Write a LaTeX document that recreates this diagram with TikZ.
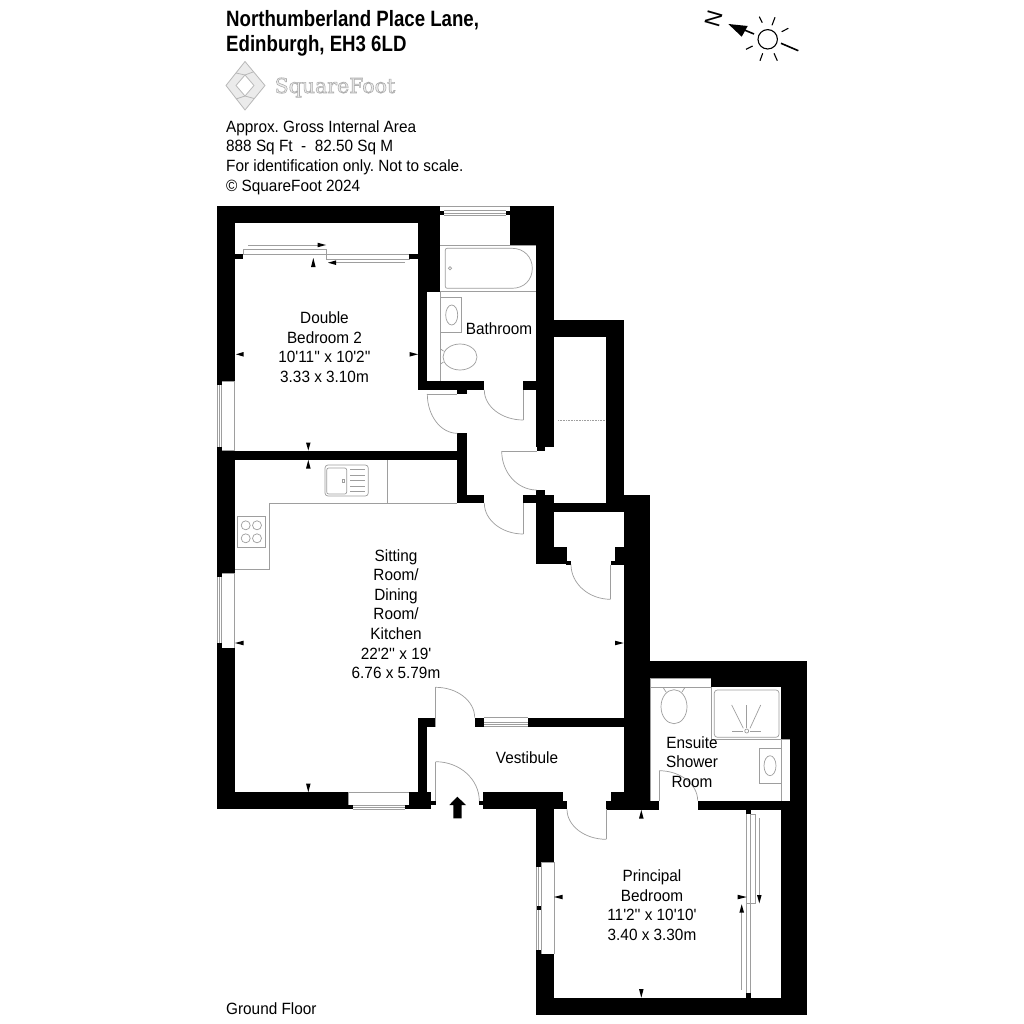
\documentclass[tikz,border=0pt]{standalone}
\usepackage{fontspec}
\setmainfont{Liberation Sans}
\newfontfamily\logofont{DejaVu Serif}
\newfontfamily\bodyfont{Liberation Sans}[FakeStretch=0.94]
\newfontfamily\titlefont{Liberation Sans}[FakeStretch=0.84]
\usetikzlibrary{calc}
\definecolor{fixgrey}{gray}{0.62}
\definecolor{logogrey}{gray}{0.72}
\definecolor{logofill}{gray}{0.92}
\tikzset{
 wall/.style={fill=black,draw=none},
 fix/.style={draw=fixgrey,line width=0.7pt,fill=none},
 win/.style={draw=fixgrey,line width=0.7pt},
 tick/.style={fill=black,draw=none},
 label/.style={inner sep=0pt,align=center,font=\bodyfont\frenchspacing\fontsize{16.3}{19.6}\selectfont},
 info/.style={inner sep=0pt,anchor=base west,font=\bodyfont\frenchspacing\fontsize{16.3}{19.6}\selectfont},
 titletext/.style={inner sep=0pt,anchor=base west,font=\titlefont\bfseries\fontsize{22.2}{25}\selectfont},
 logoline/.style={draw=logogrey,line width=0.8pt,line join=round},
 sunline/.style={draw=black,line width=1.1pt},
}
\newcommand{\wl}[2]{\fill[wall] (#1) rectangle (#2);}
\newcommand{\qarc}[3]{\draw[fix] (#1) .. controls ($(#1)!0.552!(#3)$) and ($(#2)!0.552!(#3)$) .. (#2);}
\newcommand{\trih}[3]{\fill[tick] (#1,#3) -- (#2,#3-2.3) -- (#2,#3+2.3) -- cycle;}
\newcommand{\triv}[3]{\fill[tick] (#1,#2) -- (#1-2.3,#3) -- (#1+2.3,#3) -- cycle;}
\begin{document}
\begin{tikzpicture}[x=1pt,y=-1pt]
\useasboundingbox (0,0) rectangle (1024,1024);
\fill[white] (0,0) rectangle (1024,1024);

% header text
\node[titletext] (t1) at (226,26.7) {Northumberland Place Lane,};
\node[titletext] (t2) at (226,51.7) {Edinburgh, EH3 6LD};
\node[info] (i1) at (226,132.3) {Approx. Gross Internal Area};
\node[info] (i2) at (226,152) {888 Sq Ft\ \ -\ \ 82.50 Sq M};
\node[info] (i3) at (226,171.7) {For identification only. Not to scale.};
\node[info] (i4) at (226,191.5) {© SquareFoot 2024};
\node[info] (gf) at (226,1014) {Ground Floor};

% logo
\draw[logoline,fill=logofill] (226,85.5) -- (245,61.5) -- (265,85.5) -- (245,110) -- cycle;
\draw[logoline,fill=white] (236,85.5) -- (245,75) -- (254,85.5) -- (245,96) -- cycle;
\draw[logoline] (245,75) -- (253.5,71.8);
\draw[logoline] (245,75) -- (236,73);
\draw[logoline] (245,96) -- (236,99);
\draw[logoline] (245,96) -- (254,98.5);
\node[inner sep=0pt,anchor=base west,text=logofill,font=\logofont\fontsize{20.5}{21}\selectfont] (logo) at (274.5,93) {\special{pdf:code 2 Tr 0.6 w 0.68 G}SquareFoot\special{pdf:code 0 Tr}};

% compass
\draw[sunline] (767.7,39.3) circle (9.7);
\draw[sunline] (759.3,16.7) -- (762.3,22.7);
\draw[sunline] (775,17.3) -- (772,25.3);
\draw[sunline] (788.3,28.3) -- (781.7,31.7);
\draw[draw=black,line width=1.6pt] (781,43.3) -- (798.3,50.7);
\draw[sunline] (746,49.3) -- (752.7,46);
\draw[sunline] (760,60.7) -- (762.7,53.3);
\draw[sunline] (777.3,60.7) -- (774,53.3);
\draw[draw=black,line width=1.6pt] (754,34) -- (742,29);
\fill[tick] (728.3,24) -- (747.7,26) -- (741.7,36.7) -- cycle;
\node[inner sep=0pt,rotate=74,font=\fontsize{22}{22}\selectfont] (north) at (713.5,19) {N};

% fixtures: bathroom
\draw[fix] (440,245) -- (536,245);
\draw[fix] (427,291.7) -- (536,291.7);
\draw[fix] (440,291.7) -- (440,381);
\draw[fix] (445.3,250.3) .. controls (445.3,249) and (446,248.3) .. (447.3,248.3) -- (512,248.3) .. controls (524,248.3) and (532.3,257) .. (532.3,268.3) .. controls (532.3,280) and (524,288.3) .. (512,288.3) -- (447.3,288.3) .. controls (446,288.3) and (445.3,287.6) .. (445.3,286.3) -- cycle;
\draw[fix] (450,268.3) circle (1.6);
\draw[fix] (440,297.3) rectangle (461.7,332.7);
\draw[fix] (451.7,315) ellipse (6 and 10);
\draw[fix] (460,357) ellipse (17 and 13);
\draw[fix] (440.5,349) -- (443.5,351);
\draw[fix] (440.5,364) -- (443.5,362);

% fixtures: kitchen
\draw[fix] (269.3,503) -- (457.3,503);
\draw[fix] (269.3,503) -- (269.3,569.3) -- (234.5,569.3);
\draw[fix] (387.3,460) -- (387.3,503);
\draw[fix,rounded corners=3pt] (325,465) rectangle (368.3,496);
\draw[fix,rounded corners=2pt] (326.7,468) rectangle (346.7,494);
\draw[fix] (342,479.5) rectangle (344.5,482);
\foreach \yy in {469.3,475,480.7,486,491.7} \draw[fix] (350,\yy) -- (365,\yy);
\draw[fix] (237.3,516) rectangle (265.7,547.3);
\foreach \xx/\yy in {245.7/525.3,257/525.3,245.7/538.3,257/538.3} \draw[fix] (\xx,\yy) circle (4.5);

% fixtures: store
\draw[draw=fixgrey,line width=0.6pt,densely dotted] (558,420) -- (606,420);

% fixtures: ensuite
\draw[fix] (650,687.3) -- (711.3,687.3);
\draw[fix] (711.3,678) -- (711.3,739.3) -- (790,739.3);
\draw[fix,rounded corners=3pt] (714.3,690) rectangle (779,737.3);
\draw[fix] (746.7,705) -- (746.7,728);
\draw[fix] (731.7,705) -- (743.3,728.3);
\draw[fix] (760.7,705) -- (750,728.3);
\draw[fix] (732.3,731) -- (743.3,731);
\draw[fix] (750,731) -- (760.7,731);
\draw[fix] (746.7,731) circle (2);
\draw[fix] (759.3,748.3) rectangle (781.3,783.3);
\draw[fix] (770,765.7) ellipse (6 and 10);
\draw[fix] (781.3,739.3) -- (781.3,800.7);
\draw[fix] (674,706.7) ellipse (13 and 17);
\draw[fix] (663,687.3) -- (666,692);
\draw[fix] (685,687.3) -- (682,692);
\draw[fix] (650,678) -- (650,800.7);
\draw[fix] (650,678) -- (711,678);

% double bedroom wardrobe
\draw[fix] (243.3,249.3) rectangle (326,254);
\draw[fix] (326,254) rectangle (409.3,259);
\draw[fix] (248.3,245) -- (318,245);
\fill[tick] (326,245) -- (317.5,242.7) -- (317.5,247.3) -- cycle;
\draw[fix] (335,262.7) -- (405,262.7);
\fill[tick] (328,262.7) -- (336,260.4) -- (336,265) -- cycle;
\triv{313.3}{258}{267}

% principal bedroom wardrobe
\draw[fix] (746.7,814) -- (746.7,993);
\draw[fix] (750.7,814) rectangle (755,903.3);
\draw[fix] (746.7,903.3) rectangle (750.7,993);
\draw[fix] (759.3,818) -- (759.3,895);
\fill[tick] (759.3,903.3) -- (757,895) -- (761.6,895) -- cycle;
\draw[fix] (741.7,912) -- (741.7,990);
\fill[tick] (741.7,904.3) -- (739.4,912.5) -- (744,912.5) -- cycle;

% windows
\draw[win] (440,206.5) -- (510,206.5);
\draw[win] (444,210.6) -- (506,210.6);
\draw[win] (444,213) -- (506,213);
\draw[win] (444,215) -- (506,215);
\draw[win] (217.3,381) -- (217.3,451);
\draw[win] (219.5,381) -- (219.5,451);
\draw[win] (221.7,381) -- (221.7,451);
\draw[win] (221.7,381) -- (234.5,381);
\draw[win] (234.5,381) -- (234.5,450.7);
\draw[win] (221.7,450.7) -- (234.5,450.7);
\draw[win] (217.3,573) -- (217.3,648);
\draw[win] (219.5,573) -- (219.5,648);
\draw[win] (221.7,573) -- (221.7,648);
\draw[win] (221.7,573) -- (234.5,573);
\draw[win] (234.5,573) -- (234.5,648);
\draw[win] (221.7,648) -- (234.5,648);
\draw[win] (348.3,792.3) -- (409.3,792.3);
\draw[win] (352.7,805) -- (405,805);
\draw[win] (352.7,807) -- (405,807);
\draw[win] (352.7,809.2) -- (405,809.2);
\draw[win] (484,717.7) -- (527.7,717.7);
\draw[win] (484,722.3) -- (527.7,722.3);
\draw[win] (484,724.5) -- (527.7,724.5);
\draw[win] (484,726.7) -- (527.7,726.7);
\draw[win] (536.3,862) -- (536.3,954);
\draw[win] (538.6,862) -- (538.6,954);
\draw[win] (541,862) -- (541,954);
\draw[win] (541,862) -- (554,862);
\draw[win] (554,862) -- (554,954);
\draw[win] (541,954) -- (554,954);
\draw[win] (348.3,792.3) -- (348.3,805);
\draw[win] (409.3,792.3) -- (409.3,805);

% walls
\wl{217,206}{440,223.5}
\wl{217,206}{234.5,381}
\wl{217,381}{221.7,385}
\wl{418,206}{440,291.7}
\wl{418,291}{427,390}
\wl{440,210.6}{444,215}
\wl{506,210.6}{510,215}
\wl{510,206}{553.7,245}
\wl{536,245}{553.7,446.7}
\wl{536.7,446}{544.5,451}
\wl{418,381}{484.3,390}
\wl{457.3,389}{466.7,394}
\wl{523.3,381}{536.5,390}
\wl{553,319.5}{623.7,337}
\wl{606,319.5}{623.7,512}
\wl{553,503}{623.7,512}
\wl{606,494.7}{650,512}
\wl{623.7,494.7}{650,801}
\wl{457.3,433.3}{466.7,503}
\wl{457.3,495}{484.3,503}
\wl{234,450.7}{466,460}
\wl{217,450.7}{234.5,573}
\wl{217,446.7}{221.7,451}
\wl{217,573}{221.7,577}
\wl{217,648}{234.5,809.3}
\wl{217,643}{221.7,648}
\wl{217,792.3}{348.3,809.3}
\wl{348,805}{352.7,809.3}
\wl{409.3,792.3}{431.3,809.3}
\wl{405,805}{409.5,809.3}
\wl{418,717.7}{427,793}
\wl{418,717.7}{435.7,726.7}
\wl{431,801}{435.7,805.3}
\wl{479.3,801}{483.5,805.3}
\wl{483,792.3}{562.7,809.3}
\wl{562,801}{567,809.3}
\wl{536,809}{553.7,862}
\wl{536,862}{541,867}
\wl{536,950}{541,954}
\wl{536,954}{553.7,1015}
\wl{536.5,906}{541,910}
\wl{606.3,801}{659,810}
\wl{610.7,792.3}{624,801.5}
\wl{474.7,717.7}{484,726.7}
\wl{527.7,717.7}{624,726.7}
\wl{523.3,495}{536.5,503}
\wl{536,495}{553.7,564}
\wl{553,546.7}{566.7,564}
\wl{566,560.7}{571,564.5}
\wl{536.3,490}{545,495.5}
\wl{615,546.7}{624,564.5}
\wl{610.7,560.7}{615.5,564.5}
\wl{650,660.7}{807,678}
\wl{711,677}{807,687.3}
\wl{781,687}{807,739.3}
\wl{790,739}{807,810}
\wl{698.3,800.7}{807,810}
\wl{781,809}{807,1015}
\wl{536,997.7}{807,1015}
\wl{746.3,809}{750.7,814}
\wl{746.3,993.3}{750.7,998}
\wl{234,254}{243.3,258.5}
\wl{409,254}{418.5,258.5}

% doors
\draw[fix] (427.3,394) -- (457.3,394);
\qarc{427.3,394}{457.3,433.3}{427.3,433.3}
\draw[fix] (523.3,390) -- (523.3,420);
\qarc{484.3,390}{523.3,420}{484.3,420}
\draw[fix] (501.7,451) -- (536.7,451);
\qarc{501.7,451}{536.7,490}{501.7,490}
\draw[fix] (523.3,503) -- (523.3,534);
\qarc{484.3,503}{523.3,534}{484.3,534}
\draw[fix] (610.7,564.5) -- (610.7,599.3);
\qarc{571,564.5}{610.7,599.3}{571,599.3}
\draw[fix] (435.7,726.7) -- (435.7,687.3);
\qarc{435.7,687.3}{474.7,717.7}{474.7,687.3}
\draw[fix] (435.7,801) -- (435.7,761.7);
\qarc{435.7,761.7}{479.3,801}{479.3,761.7}
\draw[fix] (606.3,809.3) -- (606.3,839.3);
\qarc{567,809.3}{606.3,839.3}{567,839.3}
\draw[fix] (659,800.7) -- (659,770.7);
\qarc{659,770.7}{697.7,800.7}{697.7,770.7}

% entry arrow
\fill[tick] (457.3,796.7) -- (466,805) -- (461.7,805) -- (461.7,818.3) -- (453.3,818.3) -- (453.3,805) -- (449.3,805) -- cycle;

% dimension ticks
\trih{236}{243.5}{354.3}
\trih{418}{409.5}{354.3}
\triv{308.3}{450.5}{442.5}
\triv{308.3}{460}{468.5}
\trih{235}{243.5}{643}
\trih{623.7}{615}{643}
\triv{308.3}{792.3}{783.5}
\triv{641.3}{810}{818.5}
\triv{641.3}{997.7}{989}
\trih{554}{562.7}{897}
\trih{746.7}{737.5}{897}

% room labels
\node[label] (dbl) at (324.5,347) {Double\\Bedroom 2\\10'11'' x 10'2''\\3.33 x 3.10m};
\node[label] (bath) at (499,329) {Bathroom};
\node[label] (sit) at (396,614) {Sitting\\Room/\\Dining\\Room/\\Kitchen\\22'2'' x 19'\\6.76 x 5.79m};
\node[label] (ves) at (527,758) {Vestibule};
\node[label] (ens) at (692,762) {Ensuite\\Shower\\Room};
\node[label] (pri) at (652,905) {Principal\\Bedroom\\11'2'' x 10'10'\\3.40 x 3.30m};
\end{tikzpicture}
\end{document}
